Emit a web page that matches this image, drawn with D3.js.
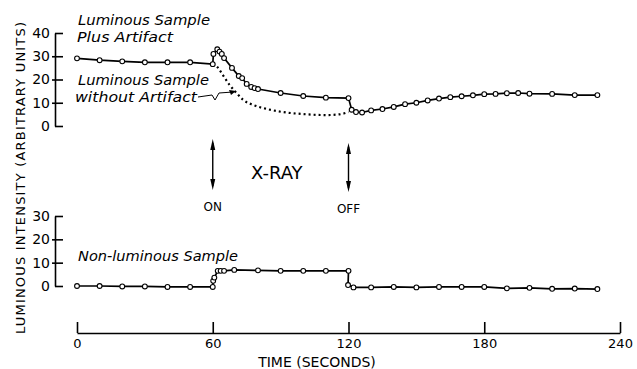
<!DOCTYPE html>
<html>
<head>
<meta charset="utf-8">
<script src="https://cdn.jsdelivr.net/npm/d3@7"></script>
<style>
  body { margin: 0; background: #fff; }
  text { font-family: "DejaVu Sans", sans-serif; fill: #000; }
</style>
</head>
<body>
<div id="rootDiv"></div>
<script>
const width = 637
const height = 369

// luminous sample plus artifact (upper panel, solid with markers)
const plusTime = [0, 10, 20, 30, 40, 50, 60, 60.3, 62, 63, 64, 65, 68.5, 71.5, 73, 75, 77, 78.5, 80, 90, 100, 110, 120,
    121.4, 123.3, 126, 130, 135, 140, 145, 150, 155, 160, 165, 170, 175, 180, 185, 190, 195, 200, 210, 220, 230]
const plusValue = [29.1, 28.3, 27.8, 27.4, 27.4, 27.4, 26.6, 31, 33, 32, 31, 29.2, 25, 21.5, 20.6, 18.1, 16.8, 16.3, 15.9, 14.2, 12.9, 12.2, 12,
    7, 6, 5.8, 6.7, 7.3, 8.2, 9.4, 10, 11, 11.8, 12.4, 12.8, 13.2, 13.7, 13.8, 14.1, 14.2, 13.9, 13.8, 13.3, 13.3]

// luminous sample without artifact (dotted)
const withoutTime = [60, 62, 64.5, 67.5, 70.5, 73.5, 78, 84, 91, 99, 110, 116, 120]
const withoutValue = [26.6, 25.4, 21.9, 17.6, 14.2, 11.2, 9, 7.3, 6, 5.2, 4.7, 5, 6]

// non-luminous sample (lower panel)
const nonTime = [0, 10, 20, 30, 40, 50, 60, 60.2, 60.7, 62.2, 63.5, 65, 69.5, 80, 90, 100, 110, 120,
    119.8, 122.2, 130, 140, 150, 160, 170, 180, 190, 200, 210, 220, 230]
const nonValue = [0, 0, -0.2, -0.2, -0.4, -0.4, -0.4, 2.2, 3.6, 6.5, 6.5, 6.5, 6.9, 6.7, 6.5, 6.5, 6.5, 6.5,
    0.4, -0.6, -0.6, -0.4, -0.6, -0.4, -0.4, -0.4, -1, -0.8, -1.2, -1.1, -1.3]

const timeTicks = [0, 60, 120, 180, 240]
const upperTicks = [0, 10, 20, 30, 40]
const lowerTicks = [0, 10, 20, 30]
const xrayOn = 60
const xrayOff = 120

const svg = d3.select("#rootDiv").append("svg")
    .attr("width", width)
    .attr("height", height)

svg.append("rect").attr("width", width).attr("height", height).attr("fill", "#fff")

const x = d3.scaleLinear().domain([0, 240]).range([77, 620])
const yUp = d3.scaleLinear().domain([0, 40]).range([126, 33])
const yLow = d3.scaleLinear().domain([0, 30]).range([286, 216])
const axisX = 55

function yAxis(scale, ticks) {
    const g = svg.append("g")
        .attr("transform", `translate(${axisX},0)`)
        .call(d3.axisLeft(scale).tickValues(ticks).tickSize(-8).tickSizeOuter(0).tickPadding(5))
    g.select(".domain").attr("stroke-width", 1.6)
    g.selectAll(".tick line").attr("stroke-width", 1.6)
        .attr("x1", d => (d === ticks[0] || d === ticks[ticks.length - 1]) ? 0 : -3)
    g.selectAll(".tick text").style("font-size", "14px").attr("fill", "#000")
    return g
}
yAxis(yUp, upperTicks)
yAxis(yLow, lowerTicks)

// time axis
const gx = svg.append("g")
    .attr("transform", "translate(0,333)")
    .call(d3.axisBottom(x).tickValues(timeTicks).tickSize(-11).tickSizeOuter(0).tickPadding(6))
gx.select(".domain").attr("stroke-width", 1.6)
gx.selectAll(".tick line").attr("stroke-width", 1.6)
gx.selectAll(".tick text").style("font-size", "13px").attr("fill", "#000")

svg.append("text")
    .attr("x", 317).attr("y", 367)
    .attr("text-anchor", "middle")
    .style("font-size", "14px")
    .text("TIME (SECONDS)")

svg.append("text")
    .attr("transform", "translate(25,178) rotate(-90)")
    .attr("text-anchor", "middle")
    .attr("textLength", 312)
    .attr("lengthAdjust", "spacing")
    .style("font-size", "13px")
    .text("LUMINOUS INTENSITY (ARBITRARY UNITS)")

// series
function drawSeries(times, values, yScale, markers) {
    const pts = times.map((t, i) => [x(t), yScale(values[i])])
    svg.append("path")
        .attr("d", d3.line()(pts))
        .attr("fill", "none")
        .attr("stroke", "#000")
        .attr("stroke-width", 1.7)
    if (!markers) return
    svg.append("g").selectAll("circle")
        .data(pts)
        .join("circle")
        .attr("cx", d => d[0])
        .attr("cy", d => d[1])
        .attr("r", 2.4)
        .attr("fill", "#fff")
        .attr("stroke", "#000")
        .attr("stroke-width", 1.1)
}

svg.append("path")
    .attr("d", d3.line().curve(d3.curveMonotoneX)(withoutTime.map((t, i) => [x(t), yUp(withoutValue[i])])))
    .attr("fill", "none")
    .attr("stroke", "#000")
    .attr("stroke-width", 2.2)
    .attr("stroke-dasharray", "2,3")

drawSeries(plusTime, plusValue, yUp, true)
drawSeries(nonTime, nonValue, yLow, true)

// annotations
function italic(txt, tx, ty, len) {
    svg.append("text")
        .attr("x", tx).attr("y", ty)
        .attr("textLength", len)
        .attr("lengthAdjust", "spacingAndGlyphs")
        .style("font-size", "14px")
        .style("font-style", "italic")
        .text(txt)
}
italic("Luminous Sample", 78, 25, 132)
italic("Plus Artifact", 77, 42, 96)
italic("Luminous Sample", 78, 85, 131)
italic("without Artifact", 75, 102, 122)
italic("Non-luminous Sample", 78, 261, 160)

// squiggle leader to the dotted curve
svg.append("path")
    .attr("d", "M198,97 L212,95 L215,100 L219,93 L233,92")
    .attr("fill", "none")
    .attr("stroke", "#000")
    .attr("stroke-width", 1)
svg.append("path")
    .attr("d", "M236,91 L229,90 L231,95 Z")
    .attr("fill", "#000")

// X-ray arrows
function doubleArrow(cx, y1, y2) {
    svg.append("line")
        .attr("x1", cx).attr("x2", cx)
        .attr("y1", y1 + 4).attr("y2", y2 - 4)
        .attr("stroke", "#000").attr("stroke-width", 1.4)
    svg.append("path")
        .attr("d", `M${cx},${y1} L${cx - 2.5},${y1 + 11} L${cx + 2.5},${y1 + 11} Z`)
        .attr("fill", "#000")
    svg.append("path")
        .attr("d", `M${cx},${y2} L${cx - 2.5},${y2 - 11} L${cx + 2.5},${y2 - 11} Z`)
        .attr("fill", "#000")
}
doubleArrow(x(xrayOn), 139, 190)
doubleArrow(x(xrayOff), 143, 192)

svg.append("text")
    .attr("x", 251).attr("y", 179)
    .style("font-size", "18px")
    .text("X-RAY")
svg.append("text")
    .attr("x", x(xrayOn)).attr("y", 211)
    .attr("text-anchor", "middle")
    .style("font-size", "12px")
    .text("ON")
svg.append("text")
    .attr("x", x(xrayOff)).attr("y", 213)
    .attr("text-anchor", "middle")
    .style("font-size", "12px")
    .text("OFF")
</script>
</body>
</html>
